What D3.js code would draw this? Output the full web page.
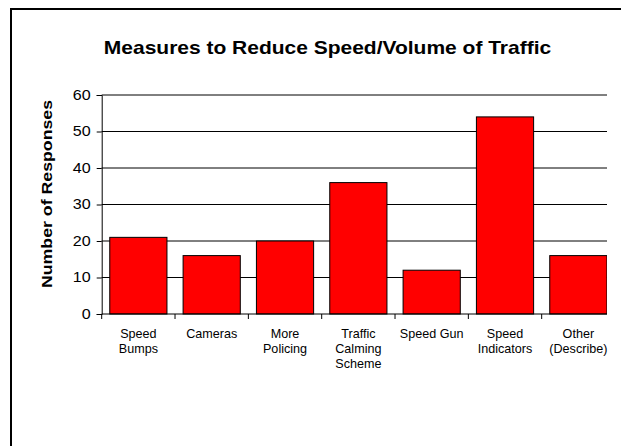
<!DOCTYPE html>
<html>
<head>
<meta charset="utf-8">
<script src="https://cdn.jsdelivr.net/npm/d3@7"></script>
<style>
  html, body { margin: 0; padding: 0; background: #fff; }
  svg { display: block; }
  text { font-family: "Liberation Sans", Arial, Helvetica, sans-serif; fill: #000; }
</style>
</head>
<body>
<svg id="chart" width="621" height="446"></svg>
<script>
// Survey responses per proposed measure
const categories = [
  "Speed Bumps", "Cameras", "More Policing", "Traffic Calming Scheme",
  "Speed Gun", "Speed Indicators", "Other (Describe)"
];
const categoryLines = [
  ["Speed", "Bumps"], ["Cameras"], ["More", "Policing"],
  ["Traffic", "Calming", "Scheme"], ["Speed Gun"], ["Speed", "Indicators"],
  ["Other", "(Describe)"]
];
const responses = [21, 16, 20, 36, 12, 54, 16];
const yTicks = [0, 10, 20, 30, 40, 50, 60];

const titleText = "Measures to Reduce Speed/Volume of Traffic";
const yTitleText = "Number of Responses";

const svg = d3.select("#chart");

// outer chart frame (runs past the right and bottom edges)
svg.append("rect")
  .attr("x", 11).attr("y", 9)
  .attr("width", 700).attr("height", 500)
  .attr("fill", "none").attr("stroke", "#000").attr("stroke-width", 2);

const plotLeft = 101.7, plotRight = 607, plotTop = 95, plotBottom = 314;

const x = d3.scaleBand()
  .domain(categories)
  .range([plotLeft, plotLeft + 7 * 73.33])
  .paddingInner(0.22)
  .paddingOuter(0.11);

const y = d3.scaleLinear().domain([0, 60]).range([plotBottom, plotTop]);

// clip for the plot area on the right side
svg.append("clipPath").attr("id", "plotClip")
  .append("rect")
  .attr("x", 0).attr("y", 0)
  .attr("width", plotRight).attr("height", 446);

const plot = svg.append("g").attr("clip-path", "url(#plotClip)");

// horizontal gridlines
plot.append("g")
  .selectAll("line")
  .data(yTicks.filter(d => d > 0))
  .join("line")
  .attr("x1", plotLeft).attr("x2", plotRight)
  .attr("y1", d => y(d)).attr("y2", d => y(d))
  .attr("stroke", "#000").attr("stroke-width", 1);

// bars
plot.append("g")
  .selectAll("rect")
  .data(categories)
  .join("rect")
  .attr("x", d => x(d))
  .attr("y", (d, i) => y(responses[i]))
  .attr("width", x.bandwidth())
  .attr("height", (d, i) => y(0) - y(responses[i]))
  .attr("fill", "#ff0000")
  .attr("stroke", "#000")
  .attr("stroke-width", 1);

// x axis line and category divider ticks
const xAxis = plot.append("g");
xAxis.append("line")
  .attr("x1", plotLeft).attr("x2", plotRight)
  .attr("y1", y(0)).attr("y2", y(0))
  .attr("stroke", "#000");
xAxis.selectAll("line.tick")
  .data(categories)
  .join("line")
  .attr("class", "tick")
  .attr("x1", d => x(d) - x.step() * x.paddingOuter())
  .attr("x2", d => x(d) - x.step() * x.paddingOuter())
  .attr("y1", y(0)).attr("y2", y(0) + 5)
  .attr("stroke", "#000");

// y axis
const yAxis = d3.axisLeft(y).tickValues(yTicks).tickSize(5).tickPadding(6);
const yG = svg.append("g")
  .attr("transform", `translate(${plotLeft},0)`)
  .call(yAxis);
yG.select(".domain").attr("stroke", "#000");
yG.selectAll(".tick line").attr("stroke", "#000");
yG.selectAll(".tick text")
  .attr("font-size", 14)
  .attr("font-family", "'Liberation Sans', Arial, sans-serif")
  .attr("fill", "#000")
  .each(function () {
    // widen the numerals slightly, anchored at their right edge
    const t = d3.select(this);
    const xPos = +t.attr("x");
    t.attr("x", null)
     .attr("transform", `translate(${xPos},0) scale(1.15,1)`);
  });

// category labels
const labels = svg.append("g");
categoryLines.forEach((lines, i) => {
  const cx = x(categories[i]) + x.bandwidth() / 2;
  const g = labels.append("g")
    .attr("transform", `translate(${cx},337.5) scale(1.05,1)`);
  g.selectAll("text")
    .data(lines)
    .join("text")
    .attr("x", 0)
    .attr("y", (d, j) => j * 15.3)
    .attr("text-anchor", "middle")
    .attr("font-size", 12)
    .text(d => d);
});

// chart title
svg.append("text")
  .attr("transform", "translate(327.5,54) scale(1.2,1)")
  .attr("text-anchor", "middle")
  .attr("font-size", 17.5)
  .attr("font-weight", "bold")
  .text(titleText);

// y axis title
svg.append("text")
  .attr("transform", "translate(52,194) rotate(-90) scale(1.24,1)")
  .attr("text-anchor", "middle")
  .attr("font-size", 14.3)
  .attr("font-weight", "bold")
  .text(yTitleText);
</script>
</body>
</html>
